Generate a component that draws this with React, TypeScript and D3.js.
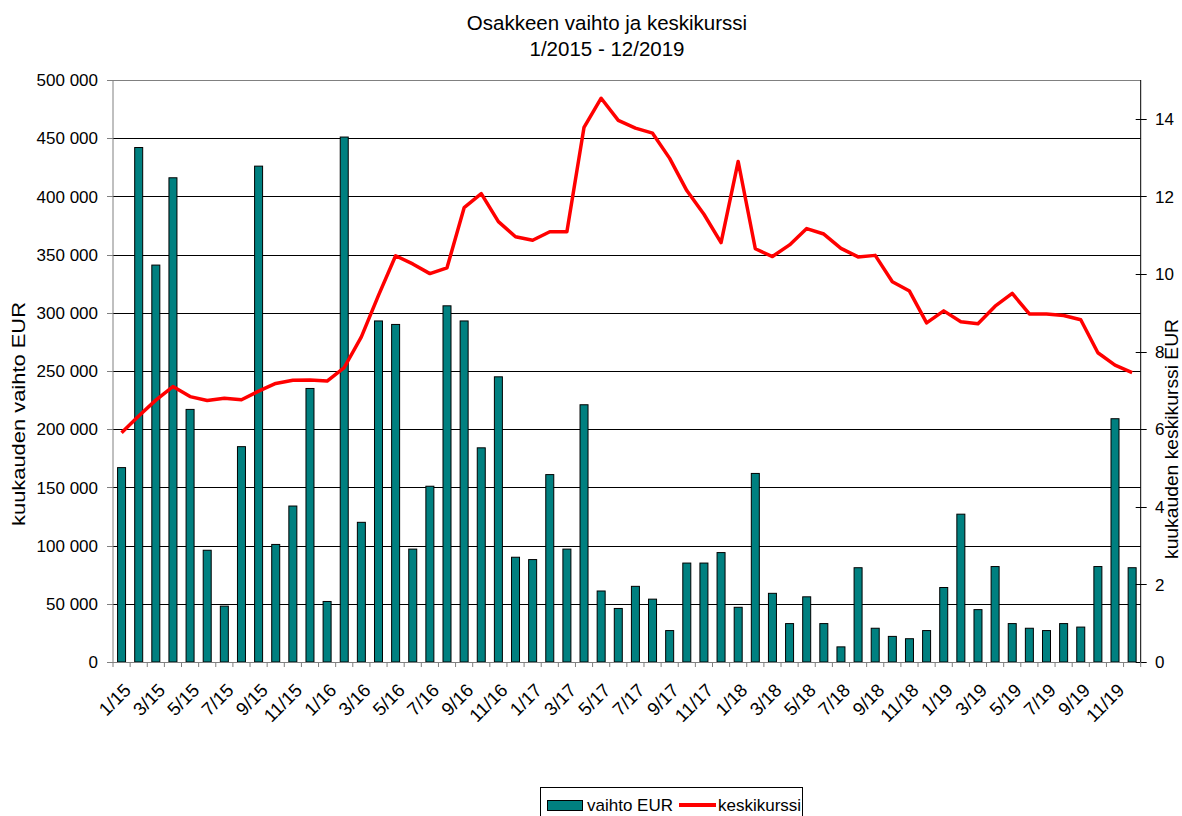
import React from "react";
import * as d3 from "d3";

const years = ["15", "16", "17", "18", "19"];
const months = years.flatMap((y) => d3.range(1, 13).map((m) => `${m}/${y}`));

const vaihto = [
  167000, 442000, 341000, 416000, 217000, 96000, 48000, 185000, 426000, 101000, 134000, 235000,
  52000, 451000, 120000, 293000, 290000, 97000, 151000, 306000, 293000, 184000, 245000, 90000,
  88000, 161000, 97000, 221000, 61000, 46000, 65000, 54000, 27000, 85000, 85000, 94000,
  47000, 162000, 59000, 33000, 56000, 33000, 13000, 81000, 29000, 22000, 20000, 27000,
  64000, 127000, 45000, 82000, 33000, 29000, 27000, 33000, 30000, 82000, 209000, 81000,
];

const keskikurssi = [
  5.91, 6.34, 6.75, 7.1, 6.84, 6.74, 6.8, 6.76, 6.98, 7.18, 7.26, 7.27,
  7.24, 7.59, 8.38, 9.45, 10.47, 10.26, 10.01, 10.16, 11.71, 12.07, 11.35, 10.96,
  10.87, 11.09, 11.09, 13.78, 14.53, 13.96, 13.76, 13.63, 12.98, 12.15, 11.54, 10.81,
  12.9, 10.65, 10.45, 10.75, 11.17, 11.03, 10.66, 10.44, 10.48, 9.8, 9.56, 8.74,
  9.05, 8.77, 8.72, 9.17, 9.5, 8.97, 8.97, 8.93, 8.82, 7.97, 7.65, 7.46,
];

const leftTicks = d3.range(0, 500001, 50000);
const rightTicks = d3.range(0, 15, 2);

const W = 1182;
const H = 816;
const L = 113;
const R = 1140.7;
const T = 80;
const B = 662;
const FONT = "'Liberation Sans', Arial, sans-serif";

const fmt = (v: number) => d3.format(",")(v).replace(/,/g, " ");

export default function App() {
  const x = d3.scaleBand<string>().domain(months).range([L, R]);
  const yL = d3.scaleLinear().domain([0, 500000]).range([B, T]);
  const yR = d3.scaleLinear().domain([0, 15]).range([B, T]);
  const bw = 8;
  const line = d3
    .line<number>()
    .x((_, i) => (x(months[i]) as number) + x.bandwidth() / 2)
    .y((d) => yR(d));

  return (
    <div style={{ position: "fixed", left: 0, top: 0 }}>
      <svg width={W} height={H} style={{ display: "block", background: "#fff" }} fontFamily={FONT}>
        {/* title */}
        <text x={607} y={30} textAnchor="middle" fontSize={20.5}>
          Osakkeen vaihto ja keskikurssi
        </text>
        <text x={607} y={56} textAnchor="middle" fontSize={20.5}>
          1/2015 - 12/2019
        </text>

        {/* gridlines */}
        {leftTicks.map((t) => (
          <line
            key={"g" + t}
            x1={L}
            x2={R}
            y1={Math.round(yL(t)) + 0.5}
            y2={Math.round(yL(t)) + 0.5}
            stroke={t === 500000 ? "#808080" : "#000"}
            strokeWidth={1}
          />
        ))}

        {/* bars */}
        {vaihto.map((v, i) => {
          const cx = (x(months[i]) as number) + x.bandwidth() / 2;
          return (
            <rect
              key={"b" + i}
              x={cx - bw / 2}
              y={yL(v)}
              width={bw}
              height={B - yL(v)}
              fill="#008080"
              stroke="#000"
              strokeWidth={1}
            />
          );
        })}

        {/* line */}
        <path d={line(keskikurssi) as string} fill="none" stroke="#ff0000" strokeWidth={3.5} strokeLinejoin="round" />

        {/* axes */}
        <line x1={L} x2={L} y1={T} y2={B} stroke="#808080" />
        <line x1={R} x2={R} y1={T} y2={B} stroke="#000" />
        <line x1={L} x2={R} y1={B + 0.5} y2={B + 0.5} stroke="#808080" />

        {/* left ticks */}
        {leftTicks.map((t) => (
          <g key={"lt" + t}>
            <line x1={L - 6} x2={L} y1={Math.round(yL(t)) + 0.5} y2={Math.round(yL(t)) + 0.5} stroke="#808080" />
            <text x={98} y={yL(t)} dy="0.36em" textAnchor="end" fontSize={17}>
              {fmt(t)}
            </text>
          </g>
        ))}

        {/* right ticks */}
        {rightTicks.map((t) => (
          <g key={"rt" + t}>
            <line x1={R - 5} x2={R + 6} y1={Math.round(yR(t)) + 0.5} y2={Math.round(yR(t)) + 0.5} stroke="#000" />
            <text x={1155} y={yR(t)} dy="0.36em" textAnchor="start" fontSize={17}>
              {t}
            </text>
          </g>
        ))}

        {/* x ticks */}
        {[...months.map((m) => x(m) as number), R].map((p, i) => (
          <line key={"xt" + i} x1={p} x2={p} y1={B} y2={B + 5} stroke="#808080" />
        ))}

        {/* x labels */}
        {months.map((m, i) =>
          i % 2 === 0 ? (
            <text
              key={"xl" + i}
              transform={`translate(${(x(m) as number) + x.bandwidth() / 2 + 1},${682}) rotate(-45)`}
              textAnchor="end"
              dy="0.72em"
              fontSize={18.5}
            >
              {m}
            </text>
          ) : null
        )}

        {/* axis titles */}
        <text
          transform={`translate(25,414) rotate(-90)`}
          textAnchor="middle"
          fontSize={17.5}
          textLength={224}
          lengthAdjust="spacingAndGlyphs"
        >
          kuukauden vaihto EUR
        </text>
        <text
          transform={`translate(1178,439) rotate(-90)`}
          textAnchor="middle"
          fontSize={17.5}
          textLength={240}
          lengthAdjust="spacingAndGlyphs"
        >
          kuukauden keskikurssi EUR
        </text>

        {/* legend */}
        <rect x={540.5} y={787.5} width={262} height={40} fill="#fff" stroke="#000" strokeWidth={1} />
        <rect x={547.5} y={800.5} width={35} height={10} fill="#008080" stroke="#000" strokeWidth={1} />
        <text x={587} y={811} fontSize={17}>
          vaihto EUR
        </text>
        <line x1={679} x2={716} y1={805} y2={805} stroke="#ff0000" strokeWidth={4} />
        <text x={718} y={811} fontSize={17}>
          keskikurssi
        </text>
      </svg>
    </div>
  );
}
